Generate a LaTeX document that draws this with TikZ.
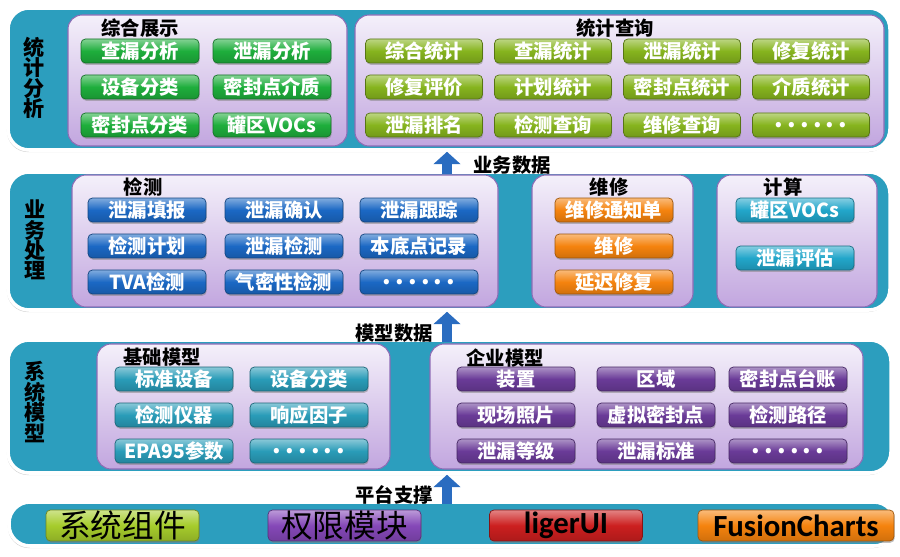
\documentclass[tikz,border=0pt]{standalone}
\usepackage{fontspec}
\setmainfont{Noto Sans CJK SC}
\newfontfamily\carlito{Carlito}
\usetikzlibrary{fit,shadows,arrows.meta}
\definecolor{bandC}{HTML}{2C9EBE}
\definecolor{pnlTop}{HTML}{F4F0FA}
\definecolor{pnlBot}{HTML}{C2A6DF}
\definecolor{pnlEdge}{HTML}{8E6CB6}
\definecolor{cGreen}{HTML}{1EAE3C}
\definecolor{cOlive}{HTML}{86B41E}
\definecolor{cBlue}{HTML}{1B68C4}
\definecolor{cOrange}{HTML}{F5830E}
\definecolor{cCyan}{HTML}{22A6CA}
\definecolor{cTeal}{HTML}{2A9CB8}
\definecolor{cPurple}{HTML}{6A3B98}
\definecolor{cLime}{HTML}{A6CC2C}
\definecolor{cViolet}{HTML}{8548B8}
\definecolor{cRed}{HTML}{CC1F1F}
\definecolor{cArrow}{HTML}{2A6CC0}
\newcommand\btnfont{\fontsize{11}{12}\selectfont\bfseries}
\newcommand\dotsrow{{\fontsize{14}{12}\selectfont .\,.\,.\,.\,.\,.}}
\tikzset{
    band/.style={draw=white, line width=2pt, fill=bandC, rounded corners=12pt, inner sep=0pt,
        drop shadow={opacity=0.35, shadow xshift=-0.6pt, shadow yshift=-1.2pt}},
    panel/.style={draw=pnlEdge, line width=0.6pt, top color=pnlTop, bottom color=pnlBot,
        rounded corners=8pt, inner sep=0pt},
    btn/.style={draw=#1!65!black, line width=0.4pt, top color=#1!55!white, bottom color=#1!85!black,
        middle color=#1, rounded corners=2.5pt, minimum width=2.36cm, minimum height=0.48cm,
        inner sep=0pt, text=white, font=\btnfont,
        drop shadow={opacity=0.5, shadow xshift=0.4pt, shadow yshift=-1pt}},
    foot/.style={btn=#1, minimum width=3.06cm, minimum height=0.62cm, text=black},
    ttl/.style={font=\btnfont, inner sep=0pt},
    sidelbl/.style={font=\fontsize{12}{11.6}\selectfont\bfseries, align=center, inner sep=0pt},
    flow/.style={draw=cArrow, line width=6pt, shorten <=-2pt, -{Triangle[width=15pt,length=7pt]}}
}
\begin{document}
\begin{tikzpicture}[x=0.02cm, y=-0.02cm]
        \useasboundingbox (0,0) rectangle (900,557);
        \node[band, fit={(8,8) (890,150)}] (b1) {};
        \node[band, fit={(8,172) (890,310)}] (b2) {};
        \node[band, fit={(8,340) (891,473)}] (b3) {};
        \node[band, fit={(9,502) (895,546)}] (b4) {};
        \node[sidelbl] (l1) at (34,78) {统\\计\\分\\析};
        \node[sidelbl] (l2) at (35,240) {业\\务\\处\\理};
        \node[sidelbl] (l3) at (35,402) {系\\统\\模\\型};
        \node[panel, fit={(68,15) (347,146)}] (zhzs) {};
        \node[panel, fit={(355,15) (884,146)}] (tjcx) {};
        \node[panel, fit={(72,175) (498,307)}] (jc) {};
        \node[panel, fit={(532,175) (693,307)}] (wx) {};
        \node[panel, fit={(717,175) (877,307)}] (js) {};
        \node[panel, fit={(97,344) (390,469)}] (jcmx) {};
        \node[panel, fit={(430,344) (863,469)}] (qymx) {};
        \node[ttl] (t1) at (140,28) {综合展示};
        \node[ttl] (t2) at (615,28) {统计查询};
        \node[ttl] (t3) at (143,187) {检测};
        \node[ttl] (t4) at (609,187) {维修};
        \node[ttl] (t5) at (783,187) {计算};
        \node[ttl] (t6) at (162,357) {基础模型};
        \node[ttl] (t7) at (505,358) {企业模型};
        \foreach \t/\x/\y [count=\i] in {查漏分析/140/51, 泄漏分析/272/51, 设备分类/140/87,
            密封点介质/272/87, 密封点分类/140/125, 罐区VOCs/272/125}
            \node[btn=cGreen] (zs\i) at (\x,\y) {\t};
        \foreach \t/\x/\y [count=\i] in {综合统计/424/51, 查漏统计/553/51, 泄漏统计/682/51, 修复统计/811/51,
            修复评价/424/87, 计划统计/553/87, 密封点统计/682/87, 介质统计/811/87,
            泄漏排名/424/125, 检测查询/553/125, 维修查询/682/125, \dotsrow/811/125}
            \node[btn=cOlive, minimum width=2.34cm] (cx\i) at (\x,\y) {\t};
        \foreach \t/\x/\y [count=\i] in {泄漏填报/147/210, 泄漏确认/284/210, 泄漏跟踪/419/210,
            检测计划/147/246, 泄漏检测/284/246, 本底点记录/419/246,
            TVA检测/147/282, 气密性检测/284/282, \dotsrow/419/282}
            \node[btn=cBlue] (jc\i) at (\x,\y) {\t};
        \foreach \t/\y [count=\i] in {维修通知单/210, 维修/246, 延迟修复/282}
            \node[btn=cOrange] (wx\i) at (614,\y) {\t};
        \foreach \t/\y [count=\i] in {罐区VOCs/210, 泄漏评估/258}
            \node[btn=cCyan] (js\i) at (795,\y) {\t};
        \foreach \t/\x/\y [count=\i] in {标准设备/174/379, 设备分类/309/379, 检测仪器/174/415,
            响应因子/309/415, EPA95参数/174/451, \dotsrow/309/451}
            \node[btn=cTeal] (jm\i) at (\x,\y) {\t};
        \foreach \t/\x/\y [count=\i] in {装置/516/379, 区域/656/379, 密封点台账/788/379,
            现场照片/516/415, 虚拟密封点/656/415, 检测路径/788/415,
            泄漏等级/516/451, 泄漏标准/656/451, \dotsrow/788/451}
            \node[btn=cPurple] (qm\i) at (\x,\y) {\t};
        \node[foot=cLime, font=\fontsize{18}{20}\selectfont] (zj) at (122.5,525.5) {系统组件};
        \node[foot=cViolet, font=\fontsize{18}{20}\selectfont] (qx) at (344.5,525.5) {权限模块};
        \node[foot=cRed, font=\carlito\bfseries\fontsize{17.5}{20}\selectfont] (lg) at (566,525.5) {ligerUI};
        \node[foot=cOrange, minimum width=3.92cm, font=\carlito\bfseries\fontsize{17.5}{20}\selectfont] (fc) at (796,525.5) {FusionCharts};
        \coordinate (ax) at (447,0);
        \draw[flow] (ax |- b2.north) -- (ax |- b1.south);
        \draw[flow] (ax |- b3.north) -- (ax |- b2.south);
        \draw[flow] (ax |- b4.north) -- (ax |- b3.south);
        \node[ttl] (ywsj) at (512,165) {业务数据};
        \node[ttl] (mxsj) at (394,333) {模型数据};
        \node[ttl] (ptzc) at (394,495) {平台支撑};
    \end{tikzpicture}
\end{document}
